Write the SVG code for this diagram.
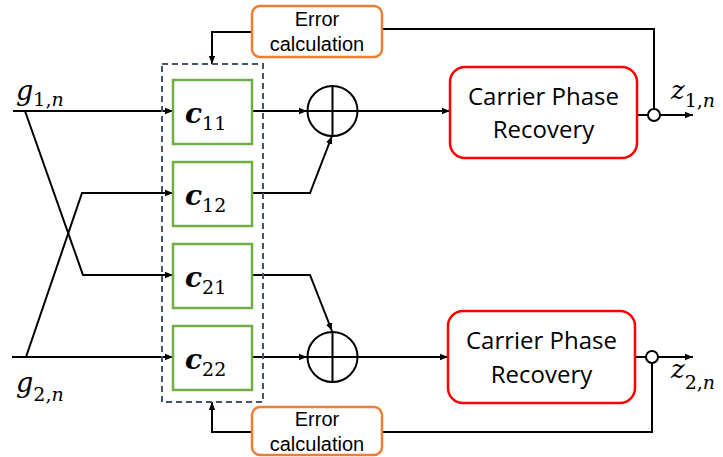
<svg xmlns="http://www.w3.org/2000/svg" width="723" height="457" viewBox="0 0 723 457">
<style>
.ln{fill:none;stroke:#000;stroke-width:2}
.arr{marker-end:url(#ah)}
.cb{fill:#fff;stroke:#70AD47;stroke-width:2.5}
.eb{fill:#fff;stroke:#ED7D31;stroke-width:2.5}
.cpr{fill:#fff;stroke:#FF0000;stroke-width:2.5}
.lbl{font-family:"Open Sans","Liberation Sans",sans-serif;fill:#000;text-anchor:middle}
.el{font-family:"Liberation Sans","Open Sans",sans-serif;fill:#000;text-anchor:middle;font-size:20px}
.m{font-family:"DejaVu Serif","Liberation Serif",serif;fill:#000}
.it{font-style:italic}
.bi{font-style:italic;font-weight:bold}
.sum{fill:#fff;stroke:#000;stroke-width:2}
</style>
<defs>
<marker id="ah" viewBox="0 0 10 10" refX="10" refY="5" markerWidth="8" markerHeight="8" markerUnits="userSpaceOnUse" orient="auto">
<path d="M0,1 L10,5 L0,9 z" fill="#000"/>
</marker>
</defs>
<g id="connectors">
<path class="ln arr" d="M13 111 H173"/>
<path class="ln arr" d="M25 111 L83 275 H173"/>
<path class="ln arr" d="M12 357 H173"/>
<path class="ln arr" d="M26 357 L82 193 H173"/>
<path class="ln arr" d="M252 111 H307"/>
<path class="ln arr" d="M252 193 H310 L332 136"/>
<path class="ln arr" d="M252 275 H310 L332 331"/>
<path class="ln arr" d="M252 357 H307"/>
<path class="ln arr" d="M358 111 H450"/>
<path class="ln arr" d="M358 357 H448"/>
<path class="ln" d="M637 115 H648"/>
<path class="ln arr" d="M660 115 H693"/>
<path class="ln" d="M635 357 H646"/>
<path class="ln arr" d="M658 357 H693"/>
<path class="ln" d="M654 109 V29 H382"/>
<path class="ln arr" d="M252 32 H212 V64"/>
<path class="ln" d="M652 363 V432 H382"/>
<path class="ln arr" d="M252 432 H212 V402"/>
<circle cx="654" cy="115" r="6" fill="#fff" stroke="#000" stroke-width="2"/>
<circle cx="652" cy="357" r="6" fill="#fff" stroke="#000" stroke-width="2"/>
</g>
<g id="equalizer">
<rect x="162" y="64" width="101" height="338" fill="none" stroke="#44546A" stroke-width="2" stroke-dasharray="6 4"/>
</g>
<g id="c11">
<rect class="cb" x="173" y="80" width="79" height="64"/>
<text class="m" x="185" y="123"><tspan class="bi" font-size="28">c</tspan><tspan font-size="19" dy="7">11</tspan></text>
</g>
<g id="c12">
<rect class="cb" x="173" y="162" width="79" height="64"/>
<text class="m" x="185" y="205"><tspan class="bi" font-size="28">c</tspan><tspan font-size="19" dy="7">12</tspan></text>
</g>
<g id="c21">
<rect class="cb" x="173" y="244" width="79" height="64"/>
<text class="m" x="185" y="287"><tspan class="bi" font-size="28">c</tspan><tspan font-size="19" dy="7">21</tspan></text>
</g>
<g id="c22">
<rect class="cb" x="173" y="326" width="79" height="64"/>
<text class="m" x="185" y="369"><tspan class="bi" font-size="28">c</tspan><tspan font-size="19" dy="7">22</tspan></text>
</g>
<g id="sum1">
<circle class="sum" cx="332.5" cy="111" r="25"/>
<path class="ln" d="M307.5 111 H357.5 M332.5 86 V136"/>
</g>
<g id="sum2">
<circle class="sum" cx="332.5" cy="357" r="25"/>
<path class="ln" d="M307.5 357 H357.5 M332.5 332 V382"/>
</g>
<g id="cpr1">
<rect class="cpr" x="450" y="67" width="187" height="91" rx="15"/>
<text class="lbl" font-size="24" x="543.5" y="105">Carrier Phase</text>
<text class="lbl" font-size="24" x="543.5" y="138">Recovery</text>
</g>
<g id="cpr2">
<rect class="cpr" x="448" y="311" width="187" height="92" rx="15"/>
<text class="lbl" font-size="24" x="541.5" y="349">Carrier Phase</text>
<text class="lbl" font-size="24" x="541.5" y="383">Recovery</text>
</g>
<g id="err1">
<rect class="eb" x="252" y="6" width="130" height="51" rx="8"/>
<text class="el" x="317" y="26">Error</text>
<text class="el" x="317" y="51">calculation</text>
</g>
<g id="err2">
<rect class="eb" x="252" y="407" width="130" height="48" rx="8"/>
<text class="el" x="317" y="426">Error</text>
<text class="el" x="317" y="451">calculation</text>
</g>
<g id="labels">
<text class="m" x="16" y="100"><tspan class="it" font-size="27">g</tspan><tspan font-size="19" dy="6">1,</tspan><tspan class="it" font-size="19">n</tspan></text>
<text class="m" x="16" y="392"><tspan class="it" font-size="27">g</tspan><tspan font-size="19" dy="9">2,</tspan><tspan class="it" font-size="19">n</tspan></text>
<text class="m" x="671" y="99"><tspan class="it" font-size="26">z</tspan><tspan font-size="19" dy="8">1,</tspan><tspan class="it" font-size="19">n</tspan></text>
<text class="m" x="671" y="378"><tspan class="it" font-size="26">z</tspan><tspan font-size="19" dy="11">2,</tspan><tspan class="it" font-size="19">n</tspan></text>
</g>
</svg>
